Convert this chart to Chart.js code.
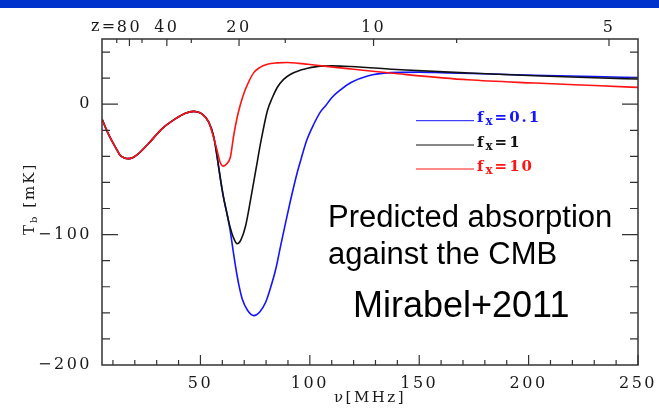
<!DOCTYPE html>
<html>
<head>
<meta charset="utf-8">
<script src="https://cdn.jsdelivr.net/npm/chart.js@4.4.1/dist/chart.umd.min.js"></script>
<style>
  html, body { margin: 0; padding: 0; background: #fff; }
  #wrap { position: relative; width: 659px; height: 408px; }
  #bar { position: absolute; left: 0; top: 0; width: 659px; height: 8px; background: #0033cc; }
</style>
</head>
<body>
<div id="wrap">
  <canvas id="myChart" width="659" height="408"></canvas>
  <div id="bar"></div>
</div>
<script>
// frequency (MHz) and brightness temperature (mK)
// part shared by all three models
const nuCommon = [5, 7, 9.4, 11.5, 13.3, 15.2, 17.1, 19.2, 21.7, 26.2, 32.4, 38.5, 43.1, 46.9, 50.7, 53.8];
const tbCommon = [-11.3, -19.5, -27.8, -34, -39.2, -41.2, -41.7, -40.8, -37.9, -30.3, -18.9, -11.3, -7, -5.5, -7.5, -13.8];
// shared by fx=0.1 and fx=1
const nuLow = [56.1, 57.6, 59.1, 60.5, 62];
const tbLow = [-25.2, -40, -57, -71, -83];

const nuBlue = [63.5, 65, 66.2, 67.6, 69.1, 71.5, 74.4, 77, 79.8, 82, 84.4, 86.6, 88.9, 91, 94.3, 96, 98.5, 101.9, 105, 107.3, 110, 114, 118.8, 126.4, 137.1, 150, 157, 180, 202.8, 230, 250];
const tbBlue = [-96, -113, -126, -139, -149.4, -158, -162.1, -159.5, -151.9, -141, -126.6, -109, -91, -75, -52, -42, -28, -15, -5.5, -1, 5, 11, 16.6, 21.7, 24.2, 24.6, 24.3, 23.3, 22.2, 21.2, 20.4];

const nuBlack = [63.5, 65, 66.8, 68.5, 70.6, 72.9, 75.3, 77.7, 80.6, 83, 85.1, 88, 91.2, 95.8, 99, 105, 110, 118.8, 141.7, 172.3, 202.8, 230, 250];
const tbBlack = [-94, -102, -107, -104, -93.6, -73.4, -50.6, -28, -5, 5.5, 12.8, 19, 23, 26.2, 27.6, 29.2, 29.4, 28.9, 26.4, 23.9, 21.8, 20.3, 19.3];

const nuRed = [55.5, 57.6, 59, 60.5, 62, 63.7, 65.2, 66.8, 68.3, 70, 72, 74.4, 77, 80.6, 85, 89.7, 95, 99, 109.6, 120, 141.7, 172.3, 202.9, 230, 250];
const tbRed = [-22.5, -35.4, -44.5, -47.5, -45.7, -40.5, -24, -10, 0, 9, 17, 24.2, 28, 30.6, 31.7, 32, 31.3, 30.6, 28.6, 26.8, 23.1, 18.7, 16.2, 14.3, 12.9];

const fxLabels = ["0.1", "1", "10"];
const xTickValues = [50, 100, 150, 200, 250];
const yTickValues = [-200, -100, 0];
const zMajor = [80, 40, 20, 10, 5];
const zMinor = [120, 60, 30, 15, 7.5];
const nu21 = 1420.4; // rest frequency of the 21cm line

function pts(nu, tb) {
	return nu.map((v, i) => ({ x: v, y: tb[i] }));
}

const ctx = document.getElementById("myChart");
Chart.defaults.font.family = "'DejaVu Serif', serif";
Chart.defaults.font.size = 16;
Chart.defaults.color = "#1a1a1a";

// wide lettering like the original plotting package
const spacing = {
	id: "spacing",
	beforeDraw(chart) {
		chart.ctx.letterSpacing = "2.5px";
	},
	beforeDatasetsDraw(chart) {
		chart.ctx.letterSpacing = "0px";
	},
};

function drawParts(c, x, y, parts) {
	parts.forEach((p) => {
		c.font = p.font;
		c.fillText(p.t, x, y + (p.dy || 0));
		x += c.measureText(p.t).width;
	});
}

const extras = {
	id: "extras",
	afterDatasetsDraw(chart) {
		const c = chart.ctx;
		const a = chart.chartArea;
		const sx = chart.scales.x, sy = chart.scales.y, sz = chart.scales.x2;
		c.save();
		c.letterSpacing = "0px";
		c.strokeStyle = "#333";
		c.lineWidth = 1.5;
		c.strokeRect(a.left, a.top, a.right - a.left, a.bottom - a.top);
		c.lineWidth = 1.2;
		c.beginPath();
		for (let v = 10; v <= 250; v += 10) {
			const px = sx.getPixelForValue(v);
			const len = v % 50 === 0 ? 10 : 5;
			c.moveTo(px, a.bottom);
			c.lineTo(px, a.bottom - len);
		}
		for (let v = -180; v <= 40; v += 20) {
			const py = sy.getPixelForValue(v);
			const len = v % 100 === 0 ? 16 : 8;
			c.moveTo(a.left, py);
			c.lineTo(a.left + len, py);
			c.moveTo(a.right, py);
			c.lineTo(a.right - len, py);
		}
		zMajor.concat(zMinor).forEach((z) => {
			const px = sz.getPixelForValue(nu21 / (1 + z));
			const len = zMajor.includes(z) ? 7 : 4;
			c.moveTo(px, a.top);
			c.lineTo(px, a.top + len);
		});
		c.stroke();

		// "z=" in front of the first redshift label
		c.fillStyle = "#1a1a1a";
		c.letterSpacing = "2.5px";
		c.font = "16px 'DejaVu Serif'";
		const p80 = sz.getPixelForValue(nu21 / (1 + zMajor[0]));
		const w80 = c.measureText(String(zMajor[0])).width;
		c.textAlign = "right";
		c.textBaseline = "alphabetic";
		c.fillText("z=", p80 - w80 / 2 + 1, a.top - 8);

		// y axis title
		c.save();
		c.translate(34, 205);
		c.rotate(-Math.PI / 2);
		c.textAlign = "left";
		c.letterSpacing = "2px";
		drawParts(c, -30, 0, [
			{ t: "T", font: "15px 'DejaVu Serif'" },
			{ t: "b", font: "10px 'DejaVu Serif'", dy: 3 },
			{ t: " [mK]", font: "15px 'DejaVu Serif'" },
		]);
		c.restore();

		// legend
		const colors = chart.data.datasets.map((d) => d.borderColor);
		const rows = [120.7, 145, 169];
		c.textAlign = "left";
		c.letterSpacing = "2px";
		fxLabels.forEach((f, i) => {
			c.strokeStyle = colors[i];
			c.lineWidth = 1;
			c.beginPath();
			c.moveTo(416, rows[i]);
			c.lineTo(474, rows[i]);
			c.stroke();
			c.fillStyle = colors[i];
			drawParts(c, 477, rows[i] + 1.5, [
				{ t: "f", font: "bold 15px 'DejaVu Serif'" },
				{ t: "x", font: "bold 12px 'DejaVu Serif'", dy: 3 },
				{ t: "=" + f, font: "bold 15px 'DejaVu Serif'" },
			]);
		});

		// slide annotations
		c.letterSpacing = "0px";
		c.fillStyle = "#000";
		c.font = "31px 'Liberation Sans', Arial, sans-serif";
		c.fillText("Predicted absorption", 328, 227);
		c.fillText("against the CMB", 328, 264);
		c.font = "36px 'Liberation Sans', Arial, sans-serif";
		c.fillText("Mirabel+2011", 353, 317);
		c.restore();
	},
};

const lineStyle = {
	borderWidth: 1.6,
	pointRadius: 0,
	fill: false,
	cubicInterpolationMode: "monotone",
};

new Chart(ctx, {
	type: "line",
	data: {
		datasets: [
			Object.assign({ label: "fx=0.1", borderColor: "#1414ff", order: 3, data: pts(nuCommon.concat(nuLow, nuBlue), tbCommon.concat(tbLow, tbBlue)) }, lineStyle),
			Object.assign({ label: "fx=1", borderColor: "#111111", order: 2, data: pts(nuCommon.concat(nuLow, nuBlack), tbCommon.concat(tbLow, tbBlack)) }, lineStyle),
			Object.assign({ label: "fx=10", borderColor: "#ff1414", order: 1, data: pts(nuCommon.concat(nuRed), tbCommon.concat(tbRed)) }, lineStyle),
		],
	},
	options: {
		responsive: false,
		animation: false,
		layout: { padding: { left: 0, right: 21, top: 0, bottom: 0 } },
		plugins: {
			legend: { display: false },
			tooltip: { enabled: false },
		},
		scales: {
			x: {
				type: "linear",
				position: "bottom",
				min: 5,
				max: 250,
				grid: { display: false, drawTicks: false },
				border: { display: false },
				afterBuildTicks: (s) => {
					s.ticks = xTickValues.map((v) => ({ value: v }));
				},
				afterFit: (s) => {
					s.height = 43;
					s.paddingLeft = 0;
					s.paddingRight = 0;
				},
				ticks: { padding: 9, maxRotation: 0, autoSkip: false },
				title: { display: true, text: "ν[MHz]", font: { size: 15 }, padding: { top: 0, bottom: 1 } },
			},
			x2: {
				type: "linear",
				position: "top",
				min: 5,
				max: 250,
				grid: { display: false, drawTicks: false },
				border: { display: false },
				afterBuildTicks: (s) => {
					s.ticks = zMajor.map((z) => ({ value: nu21 / (1 + z) }));
				},
				afterFit: (s) => {
					s.height = 39;
					s.paddingLeft = 0;
					s.paddingRight = 0;
				},
				ticks: {
					padding: 2,
					maxRotation: 0,
					autoSkip: false,
					callback: (v) => String(Math.round(nu21 / v - 1)),
				},
			},
			y: {
				min: -200,
				max: 50,
				grid: { display: false, drawTicks: false },
				border: { display: false },
				afterBuildTicks: (s) => {
					s.ticks = yTickValues.map((v) => ({ value: v }));
				},
				afterFit: (s) => {
					s.width = 102;
					s.paddingTop = 0;
					s.paddingBottom = 0;
				},
				ticks: {
					padding: 10,
					callback: (v) => (v < 0 ? "\u2212" + Math.abs(v) : String(v)),
				},
			},
		},
	},
	plugins: [spacing, extras],
});
</script>
</body>
</html>
